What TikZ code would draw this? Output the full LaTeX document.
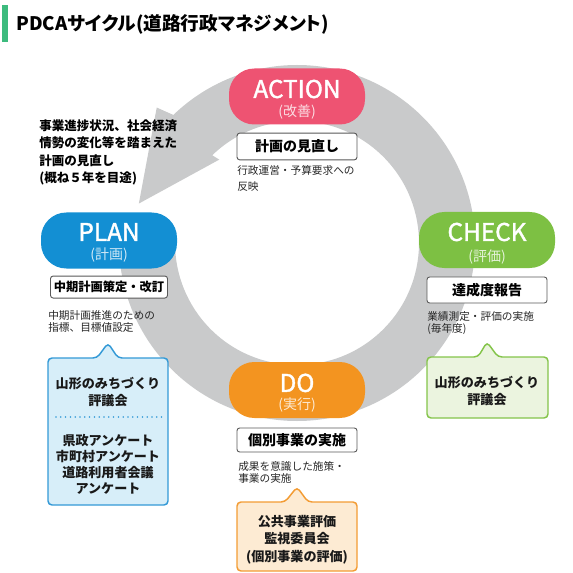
\documentclass[tikz,border=0pt]{standalone}
\usepackage{fontspec}
\setmainfont{Noto Sans CJK JP}
\newfontfamily\titlefont[RawFeature=+palt]{Noto Sans CJK JP}
\newfontfamily\pillfont[FakeBold=1.6]{Noto Sans CJK JP}
\usepackage{tikz}
\usetikzlibrary{positioning}
\definecolor{actred}{HTML}{EE5372}
\definecolor{planblue}{HTML}{138FD3}
\definecolor{chkgreen}{HTML}{7DC043}
\definecolor{doorange}{HTML}{F39420}
\definecolor{ringgrey}{HTML}{C9CACB}
\definecolor{titlegreen}{HTML}{3DBB7E}
\definecolor{bluefill}{HTML}{D7EEF9}
\definecolor{blueline}{HTML}{3399D6}
\definecolor{greenfill}{HTML}{EBF4DF}
\definecolor{greenline}{HTML}{84C44A}
\definecolor{orangefill}{HTML}{FDEBD3}
\definecolor{orangeline}{HTML}{F39C34}

\begin{document}
\begin{tikzpicture}[x=0.75pt,y=-0.75pt,on grid,
   pill/.style={fill=#1,rounded corners=19pt,minimum width=102pt,minimum height=42pt,inner sep=0pt},
   pillname/.style={text=white,inner sep=0pt,font=\pillfont\fontsize{18.3}{18.3}\selectfont},
   pillsub/.style={text=white,text opacity=0.8,inner sep=0pt,font=\fontsize{10.5}{10.5}\selectfont},
   subbox/.style={draw=black!65,fill=white,line width=0.7pt,rounded corners=2pt,
      minimum width=90pt,minimum height=19.5pt,inner sep=0pt,font=\bfseries\fontsize{10.5}{10.5}\selectfont},
   note/.style={anchor=north west,align=left,inner sep=0pt,text=black!85,font=\fontsize{8}{#1}\selectfont},
   calltext/.style={align=center,inner sep=0pt,text=black!90,font=\bfseries\fontsize{9.8}{#1}\selectfont},
   call/.style={draw=#1line,fill=#1fill,line width=1.1pt,rounded corners=3pt}]
\useasboundingbox (0,0) rectangle (573,573);

% title
\fill[titlegreen] (2,5) rectangle (8,42);
\node[anchor=west,inner sep=0pt,font=\titlefont\bfseries\fontsize{14}{14}\selectfont] (title) at (16,24) {PDCAサイクル(道路行政マネジメント)};

% the cycle arrow
\coordinate (ctr) at (297,243);
\fill[ringgrey] ([shift={(180:178)}]ctr) arc[start angle=180,end angle=-134,radius=178]
   -- ([shift={(-136:195)}]ctr) -- ([shift={(-166:163)}]ctr) -- ([shift={(-133:114)}]ctr)
   -- ([shift={(-134:122)}]ctr) arc[start angle=-134,end angle=180,radius=122] -- cycle;

\node[anchor=north west,align=left,inner sep=0pt,font=\bfseries\fontsize{9.4}{13.2}\selectfont] (revnote) at (39,119)
   {事業進捗状況、社会経済\\情勢の変化等を踏まえた\\計画の見直し\\(概ね５年を目途)};

% four stages
\node[pill=actred] (action) at (297,96.5) {};
\node[pillname] (action-t) [above=5.6pt of action] {ACTION};
\node[pillsub] (action-s) [below=11.6pt of action] {(改善)};
\node[subbox,minimum height=20pt] (act-box) [below=37.5pt of action] {計画の見直し};
\node[note=11.5pt] (act-note) at (237,165.4) {行政運営・予算要求への\\反映};

\node[pill=planblue] (plan) at (109,240.5) {};
\node[pillname] (plan-t) [above=6.4pt of plan] {PLAN};
\node[pillsub] (plan-s) [below=10.9pt of plan] {(計画)};
\node[subbox,minimum width=87.75pt,minimum height=16.5pt,font=\bfseries\fontsize{9.2}{9.2}\selectfont] (plan-box) [below=34.9pt of plan] {中期計画策定・改訂};
\node[note=9pt] (plan-note) at (48,310.7) {中期計画推進のための\\指標、目標値設定};

\node[pill=chkgreen] (check) at (487,240) {};
\node[pillname] (check-t) [above=6pt of check] {CHECK};
\node[pillsub] (check-s) [below=12.5pt of check] {(評価)};
\node[subbox] (chk-box) [below=37.5pt of check] {達成度報告};
\node[note=8.5pt] (chk-note) at (427,311.7) {業績測定・評価の実施\\(毎年度)};

\node[pill=doorange] (doit) at (297,390) {};
\node[pillname] (doit-t) [above=5.3pt of doit] {DO};
\node[pillsub] (doit-s) [below=11.3pt of doit] {(実行)};
\node[subbox,minimum height=18pt] (do-box) [below=37.5pt of doit] {個別事業の実施};
\node[note=8.5pt] (do-note) at (238,461.7) {成果を意識した施策・\\事業の実施};

% callouts
\draw[call=blue] (48,358) -- (97,358) -- (108,343) -- (118,358) -- (168,358) -- (168,505) -- (48,505) -- cycle;
\node[calltext=12.75pt] (plan-c1) at (108,391.5) {山形のみちづくり\\評議会};
\draw[blueline,line width=1.3pt,line cap=round,dash pattern=on 0pt off 3.6pt] (56,417) -- (162,417);
\node[calltext=12pt] (plan-c2) at (108,464) {県政アンケート\\市町村アンケート\\道路利用者会議\\アンケート};

\draw[call=green] (427,357) -- (478,357) -- (487,342) -- (498,357) -- (548,357) -- (548,418) -- (427,418) -- cycle;
\node[calltext=12.75pt] (chk-c) at (487,391) {山形のみちづくり\\評議会};

\draw[call=orange] (237,502) -- (285,502) -- (297,487) -- (308,502) -- (357,502) -- (357,571) -- (237,571) -- cycle;
\node[calltext=13pt] (do-c) at (297,539.5) {公共事業評価\\監視委員会\\(個別事業の評価)};
\end{tikzpicture}
\end{document}
